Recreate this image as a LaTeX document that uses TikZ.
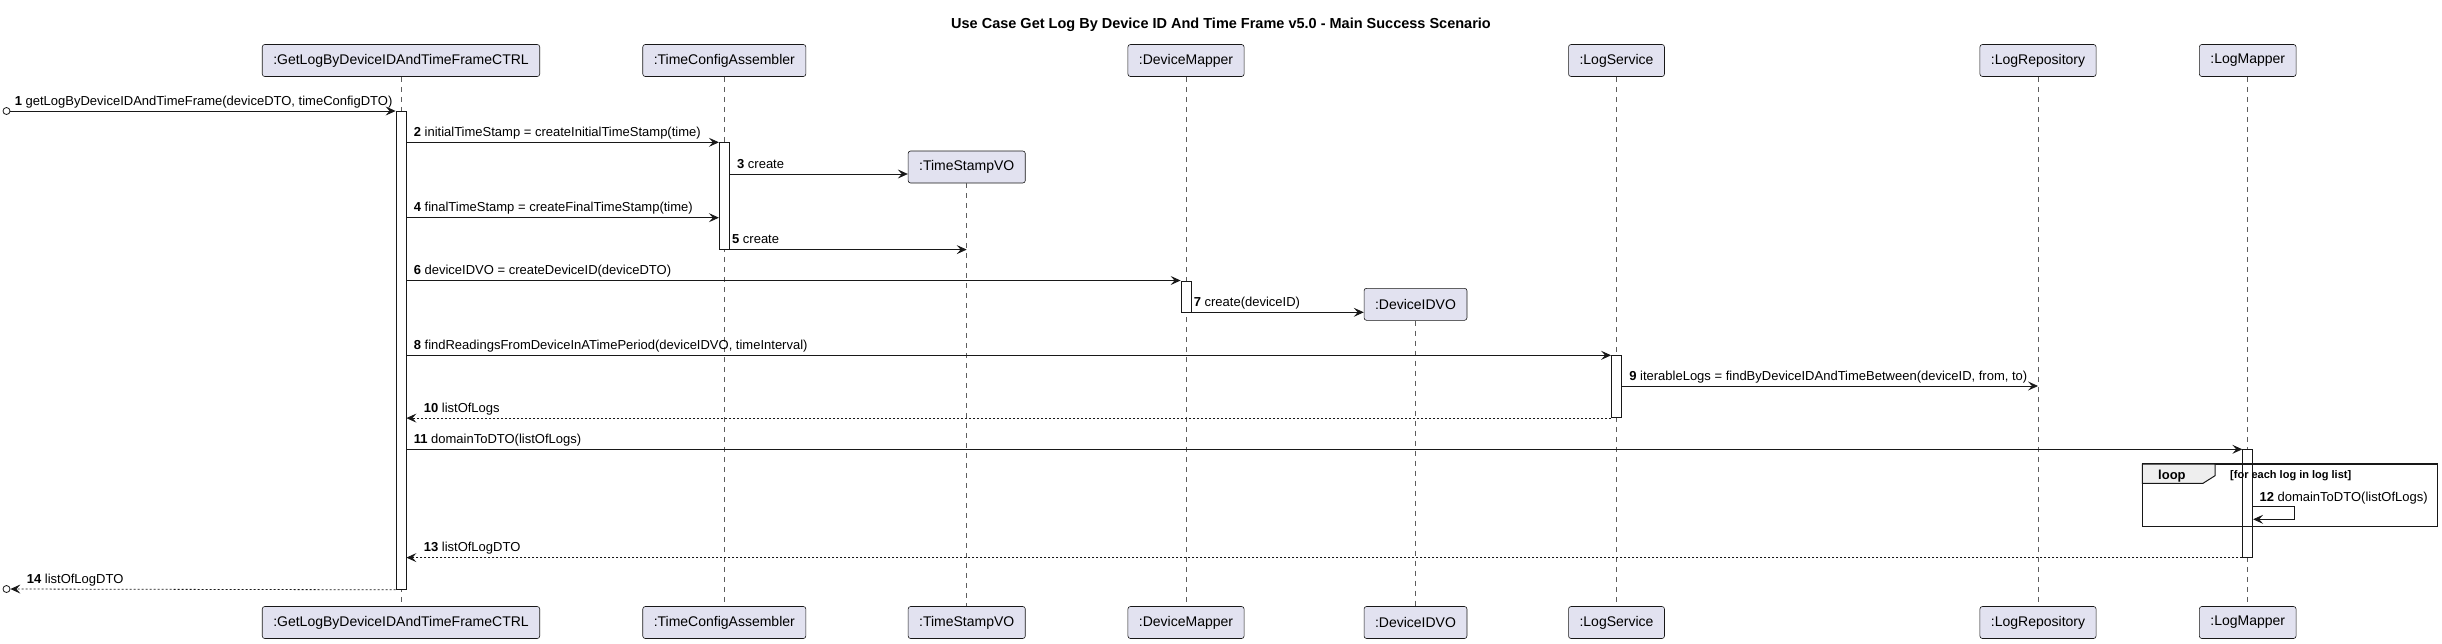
\documentclass[tikz,border=0pt]{standalone}
\usepackage{fontspec}
\setmainfont{Liberation Sans}
\usetikzlibrary{arrows.meta,calc}
\definecolor{partfill}{HTML}{E2E2F0}
\definecolor{tabfill}{HTML}{EEEEEE}
\definecolor{umlline}{HTML}{181818}
\tikzset{main base/.style={draw=umlline,line width=0.6pt,text centered, }, }
\tikzset{main node/.style={rectangle,rounded corners=2.5pt,main base,fill=partfill,
    inner xsep=11pt,minimum height=32pt,font=\fontsize{14}{16}\selectfont}, }
\tikzset{bar/.style={rectangle,draw=umlline,line width=0.8pt,fill=white,
    minimum width=10pt,inner sep=0pt,anchor=north}, }
\tikzset{linea/.style={-{Stealth[length=10pt,width=9pt,inset=4pt]},draw=umlline,line width=0.8pt}}
\tikzset{linea2/.style={linea,dash pattern=on 2pt off 2pt}}
\tikzset{lifeline/.style={draw=umlline!70,line width=0.5pt,dash pattern=on 5pt off 5pt}}
\tikzset{msg/.style={anchor=base west,inner sep=0pt,font=\fontsize{13}{15}\selectfont}}
\tikzset{primo/.style={circle,draw=umlline,line width=0.8pt,inner sep=0pt,minimum size=7pt}, }

\begin{document}
\begin{tikzpicture}[x=1pt,y=-1pt]
\useasboundingbox (0,0) rectangle (2442,643);
\node[font=\bfseries\fontsize{14.5}{17}\selectfont] (t) at (1221,25)
  {Use Case Get Log By Device ID And Time Frame v5.0 - Main Success Scenario};
%
\node[main node] (1) at (401,60.5) {:GetLogByDeviceIDAndTimeFrameCTRL};
\node[main node] (2) at (724.3,60.5) {:TimeConfigAssembler};
\node[main node] (3) at (966.7,167) {:TimeStampVO};
\node[main node] (4) at (1186,60.5) {:DeviceMapper};
\node[main node] (5) at (1415.5,304.3) {:DeviceIDVO};
\node[main node] (6) at (1616.5,60.5) {:LogService};
\node[main node] (7) at (2038,60.5) {:LogRepository};
\node[main node] (8) at (2247.7,60.5) {:LogMapper};
\foreach \x/\t in {1/:GetLogByDeviceIDAndTimeFrameCTRL,2/:TimeConfigAssembler,3/:TimeStampVO,
    4/:DeviceMapper,5/:DeviceIDVO,6/:LogService,7/:LogRepository,8/:LogMapper}
  \node[main node] (1\x) at (\x |- 0,622.5) {\t};
\foreach \x in {1,...,8}
  \path[lifeline] (\x) edge (1\x);
%
\node[bar,minimum height=478pt] (a1) at (401,111) {};
\node[bar,minimum height=106.5pt] (a2) at (724.3,142.3) {};
\node[bar,minimum height=31pt] (a3) at (1186,280.5) {};
\node[bar,minimum height=62pt] (a4) at (1616.5,355.3) {};
\node[bar,minimum height=107.5pt] (a5) at (2247.7,449.3) {};
\node[primo] (c1) at (6.5,111) {};
\node[primo] (c2) at (6.5,589) {};
%
\draw[line width=1.5pt,draw=umlline] (2142.3,464) rectangle (2437.3,526.7);
\draw[line width=1pt,draw=umlline,fill=tabfill] (2142.3,464) -- (2215,464) -- (2215,475.7)
  -- (2203,483.3) -- (2142.3,483.3) -- cycle;
\node[msg,font=\bfseries\fontsize{13}{15}\selectfont] (lt) at (2158,479) {loop};
\node[msg,font=\bfseries\fontsize{11}{13}\selectfont] (lg) at (2230,478.5) {[for each log in log list]};
%
\draw[linea] (c1) -- node[msg,pos=0,xshift=4pt,yshift=6pt] {\textbf{1} getLogByDeviceIDAndTimeFrame(deviceDTO, timeConfigDTO)} (a1.north west);
\draw[linea] (a1.east |- a2.north) -- node[msg,pos=0,xshift=7pt,yshift=6pt] {\textbf{2} initialTimeStamp = createInitialTimeStamp(time)} (a2.north west);
\draw[linea] (a2.east |- 0,174) -- node[msg,pos=0,xshift=7pt,yshift=6pt] {\textbf{3} create} (3.west |- 0,174);
\draw[linea] (a1.east |- 0,217.7) -- node[msg,pos=0,xshift=7pt,yshift=6pt] {\textbf{4} finalTimeStamp = createFinalTimeStamp(time)} (a2.west |- 0,217.7);
\draw[linea] (a2.south east) -- node[msg,pos=0,xshift=2pt,yshift=6pt] {\textbf{5} create} (3 |- a2.south);
\draw[linea] (a1.east |- a3.north) -- node[msg,pos=0,xshift=7pt,yshift=6pt] {\textbf{6} deviceIDVO = createDeviceID(deviceDTO)} (a3.north west);
\draw[linea] (a3.south east) -- node[msg,pos=0,xshift=2pt,yshift=6pt] {\textbf{7} create(deviceID)} (5.west |- a3.south);
\draw[linea] (a1.east |- a4.north) -- node[msg,pos=0,xshift=7pt,yshift=6pt] {\textbf{8} findReadingsFromDeviceInATimePeriod(deviceIDVO, timeInterval)} (a4.north west);
\draw[linea] (a4.east |- 0,386) -- node[msg,pos=0,xshift=7pt,yshift=6pt] {\textbf{9} iterableLogs = findByDeviceIDAndTimeBetween(deviceID, from, to)} (7 |- 0,386);
\draw[linea2] (a4.south west) -- node[msg,pos=1,xshift=17pt,yshift=6pt] {\textbf{10} listOfLogs} (a1.east |- a4.south);
\draw[linea] (a1.east |- a5.north) -- node[msg,pos=0,xshift=7pt,yshift=6pt] {\textbf{11} domainToDTO(listOfLogs)} (a5.north west);
\draw[linea] (a5.east |- 0,506.7) -- node[msg,pos=0,xshift=6pt,yshift=5pt] {\textbf{12} domainToDTO(listOfLogs)} ++(41.6,0)
  -- ++(0,12.6) -- (a5.east |- 0,519.3);
\draw[linea2] (a5.south west) -- node[msg,pos=1,xshift=17pt,yshift=6pt] {\textbf{13} listOfLogDTO} (a1.east |- a5.south);
\draw[linea2] (a1.south west) -- node[msg,pos=1,xshift=16pt,yshift=6pt] {\textbf{14} listOfLogDTO} (c2);
%
\end{tikzpicture}
\end{document}
